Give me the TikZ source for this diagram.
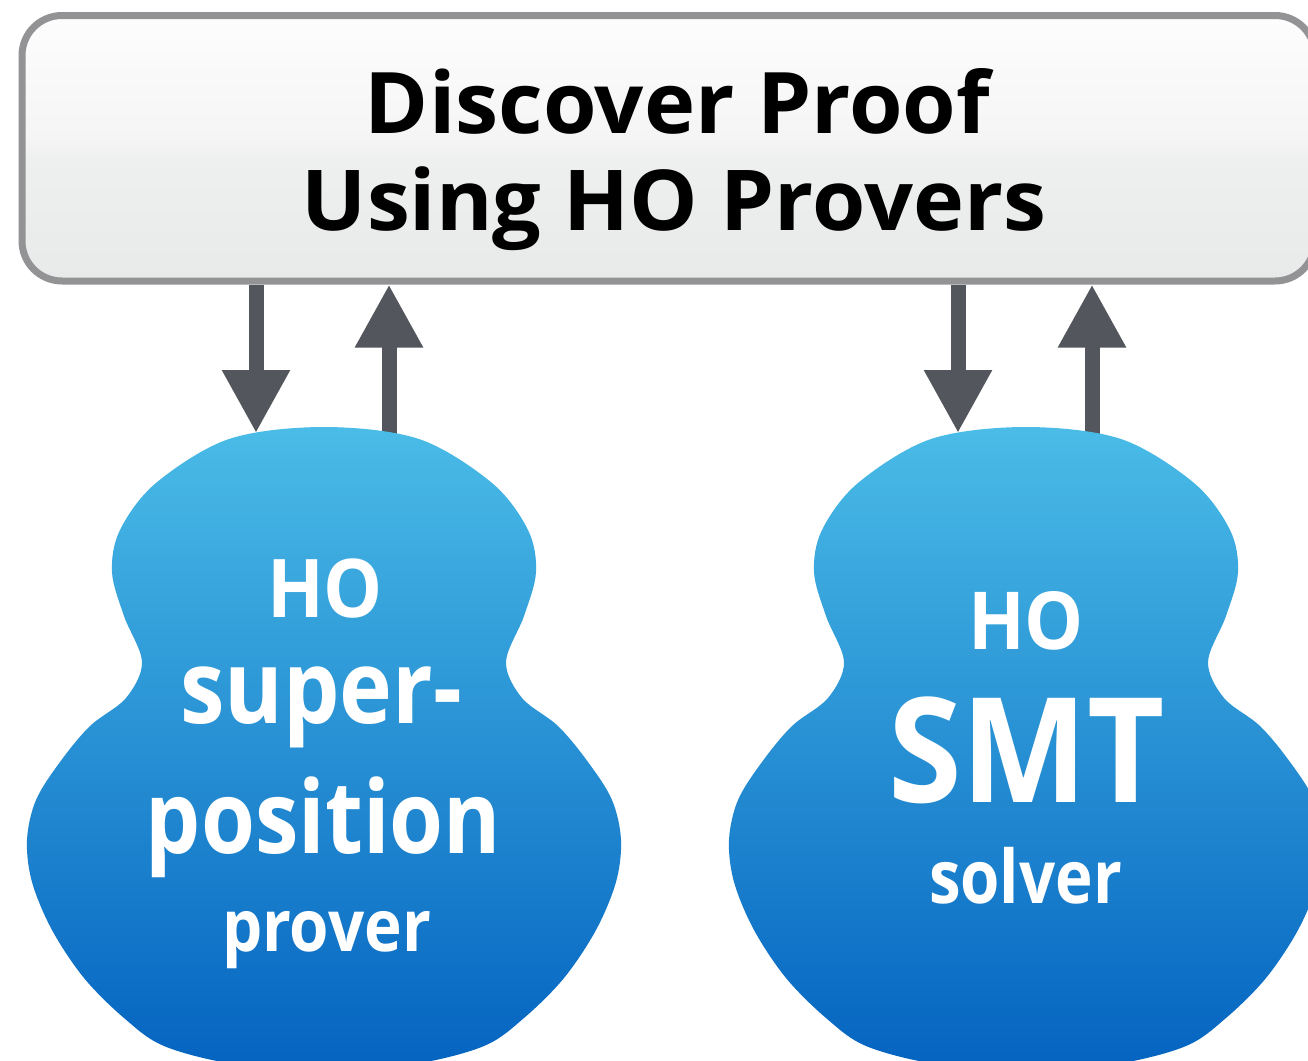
\documentclass[tikz,border=0pt]{standalone}
\usepackage{fontspec}
\usepackage{graphicx}
\setmainfont{Open Sans}
\usetikzlibrary{arrows.meta}
\definecolor{arrowgray}{HTML}{53565C}
\definecolor{boxborder}{HTML}{939295}
\definecolor{boxtop}{HTML}{FDFDFD}
\definecolor{boxmidA}{HTML}{F5F5F5}
\definecolor{boxmidB}{HTML}{EEEFEF}
\definecolor{boxbot}{HTML}{E8E9E9}
\definecolor{blobtop}{HTML}{4ABCE7}
\definecolor{blobbot}{HTML}{0463C0}
\pgfdeclareverticalshading{boxshade}{100bp}{color(0bp)=(boxbot); color(25bp)=(boxbot); color(48bp)=(boxmidB); color(52bp)=(boxmidA); color(75bp)=(boxtop); color(100bp)=(boxtop)}
\newcommand\fitt[3]{\resizebox{#1}{\height}{\fontsize{#2}{#2}\selectfont\bfseries #3}}
\newcommand\blobshape{plot[smooth cycle, tension=0.55] coordinates {
 (0,427) (95,439) (168,483) (204,530) (212,572) (200,616) (182,662) (198,698) (234,726) (264,762) (288,800) (297,840) (292,882) (272,930) (240,978) (200,1018) (160,1046) (90,1064) (0,1070)
 (-90,1064) (-160,1046) (-200,1018) (-240,978) (-272,930) (-292,882) (-297,840) (-288,800) (-264,762) (-234,726) (-198,698) (-182,662) (-200,616) (-212,572) (-204,530) (-168,483) (-95,439)}}
\tikzset{
  procbox/.style={draw=boxborder, line width=7pt, rounded corners=40pt, shading=boxshade, minimum width=1293pt, minimum height=265.5pt, inner sep=0pt, outer sep=0pt, anchor=north west},
  arr/.style={draw=arrowgray, line width=15pt, -{Triangle[width=64pt,length=63pt]}, arrowgray},
  blob/.style={top color=blobtop, bottom color=blobbot, draw=none},
  boxtext/.style={anchor=base, inner sep=0pt, text=black},
  blobtext/.style={anchor=base, inner sep=0pt, text=white}
}
\begin{document}
\begin{tikzpicture}[x=1pt,y=-1pt]
\useasboundingbox (0,0) rectangle (1308,1060);
\clip (0,0) rectangle (1308,1060);
\fill[white] (0,0) rectangle (1308,1060);
% top box
\node[procbox] (box) at (22,15.5) {};
\node[boxtext] (t1) at (677.5,133) {\fitt{625pt}{85}{Discover Proof}};
\node[boxtext] (t2) at (674,230) {\fitt{744pt}{84}{Using HO Provers}};
% blob anchor coordinates
\coordinate (dl) at (256,433);
\coordinate (ul) at (389,445);
\coordinate (dr) at (958,433);
\coordinate (ur) at (1092,445);
% arrows
\draw[arr] ([yshift=-3.5pt]box.south -| dl) -- (dl);
\draw[arr] (ul) -- ([yshift=-3.5pt]box.south -| ul);
\draw[arr] ([yshift=-3.5pt]box.south -| dr) -- (dr);
\draw[arr] (ur) -- ([yshift=-3.5pt]box.south -| ur);
% blobs
\begin{scope}[shift={(324,0)}]
  \path[blob] \blobshape;
  \coordinate (blobL) at (0,750);
\end{scope}
\begin{scope}[shift={(1026,0)}]
  \path[blob] \blobshape;
  \coordinate (blobR) at (0,750);
\end{scope}
% blob texts
\node[blobtext] (hoL) at (325,617) {\fitt{116pt}{81}{HO}};
\node[blobtext] (sup) at (321,723) {\fitt{282pt}{102}{super-}};
\node[blobtext] (pos) at (323.5,853) {\fitt{355pt}{101}{position}};
\node[blobtext] (prv) at (326.5,951) {\fitt{209pt}{72}{prover}};
\node[blobtext] (hoR) at (1026,649) {\fitt{116pt}{80}{HO}};
\node[blobtext] (smt) at (1026.5,802) {\fitt{277pt}{146}{SMT}};
\node[blobtext] (slv) at (1025.5,903) {\fitt{193pt}{74}{solver}};
\end{tikzpicture}
\end{document}
